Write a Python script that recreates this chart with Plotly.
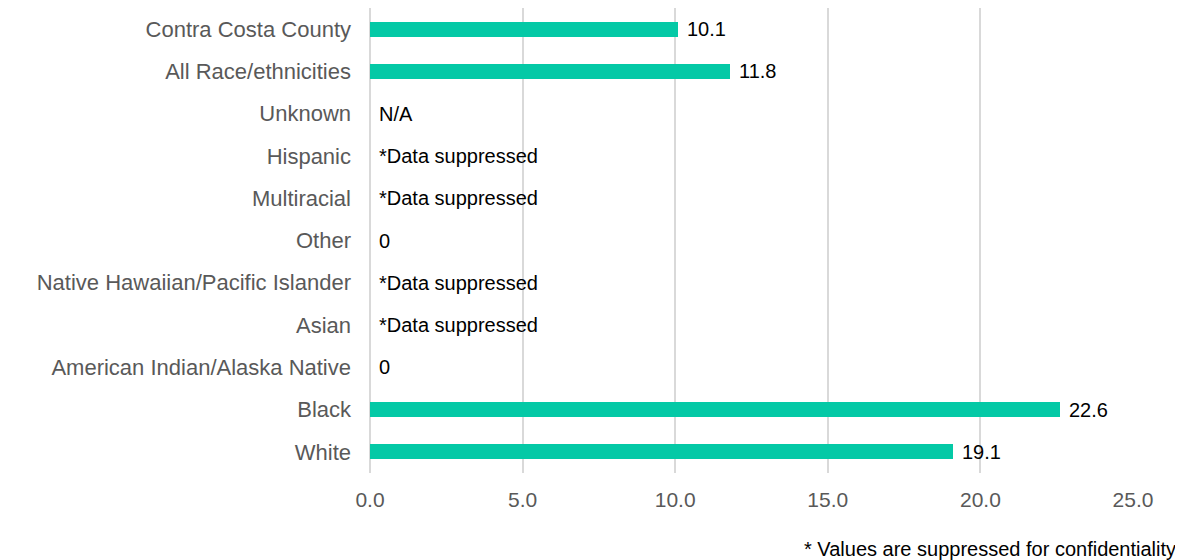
import plotly.graph_objects as go

categories = [
    "Contra Costa County",
    "All Race/ethnicities",
    "Unknown",
    "Hispanic",
    "Multiracial",
    "Other",
    "Native Hawaiian/Pacific Islander",
    "Asian",
    "American Indian/Alaska Native",
    "Black",
    "White",
]
values = [10.1, 11.8, None, None, None, 0, None, None, 0, 22.6, 19.1]
labels = ["10.1", "11.8", "N/A", "*Data suppressed", "*Data suppressed", "0",
          "*Data suppressed", "*Data suppressed", "0", "22.6", "19.1"]
x_ticks = [0, 5, 10, 15, 20, 25]
x_tick_labels = ["0.0", "5.0", "10.0", "15.0", "20.0", "25.0"]
footnote = "* Values are suppressed for confidentiality"

BAR_COLOR = "#04C9A6"
GRID = "#D9D9D9"
AXIS_TEXT = "#595959"
FONT = "Liberation Sans, Arial, sans-serif"

fig = go.Figure()
fig.add_trace(go.Bar(
    y=categories,
    x=[v if v is not None else 0 for v in values],
    orientation="h",
    marker=dict(color=BAR_COLOR, line=dict(width=0)),
    width=0.35,
    hoverinfo="skip",
    showlegend=False,
))

annotations = []
for cat, v, lab in zip(categories, values, labels):
    xv = v if v is not None else 0
    annotations.append(dict(
        x=xv, y=cat, xref="x", yref="y",
        text=lab, showarrow=False,
        xanchor="left", yanchor="middle",
        xshift=7,
        font=dict(family=FONT, size=20, color="#000000"),
    ))

annotations.append(dict(
    x=1.059, y=-0.163, xref="paper", yref="paper",
    text=footnote, showarrow=False,
    xanchor="right", yanchor="middle",
    font=dict(family=FONT, size=20, color="#000000"),
))

# page body has an 8px default margin, so the figure is sized to fit the window
fig.update_layout(
    width=1175, height=552,
    margin=dict(l=362, r=50, t=0, b=87),
    paper_bgcolor="white",
    plot_bgcolor="white",
    font=dict(family=FONT),
    annotations=annotations,
    bargap=0,
)
fig.update_xaxes(
    range=[0, 25],
    tickvals=x_ticks,
    ticktext=x_tick_labels,
    showgrid=True, gridcolor=GRID, gridwidth=2,
    zeroline=True, zerolinecolor=GRID, zerolinewidth=2,
    showline=False,
    ticks="",
    ticklabelstandoff=12,
    tickfont=dict(family=FONT, size=21, color=AXIS_TEXT),
    fixedrange=True,
)
fig.update_yaxes(
    categoryorder="array",
    categoryarray=categories,
    autorange="reversed",
    showgrid=False,
    zeroline=False,
    showline=False,
    ticks="",
    ticklabelstandoff=18,
    tickfont=dict(family=FONT, size=22, color=AXIS_TEXT),
    fixedrange=True,
)

fig.write_html("out.html")
